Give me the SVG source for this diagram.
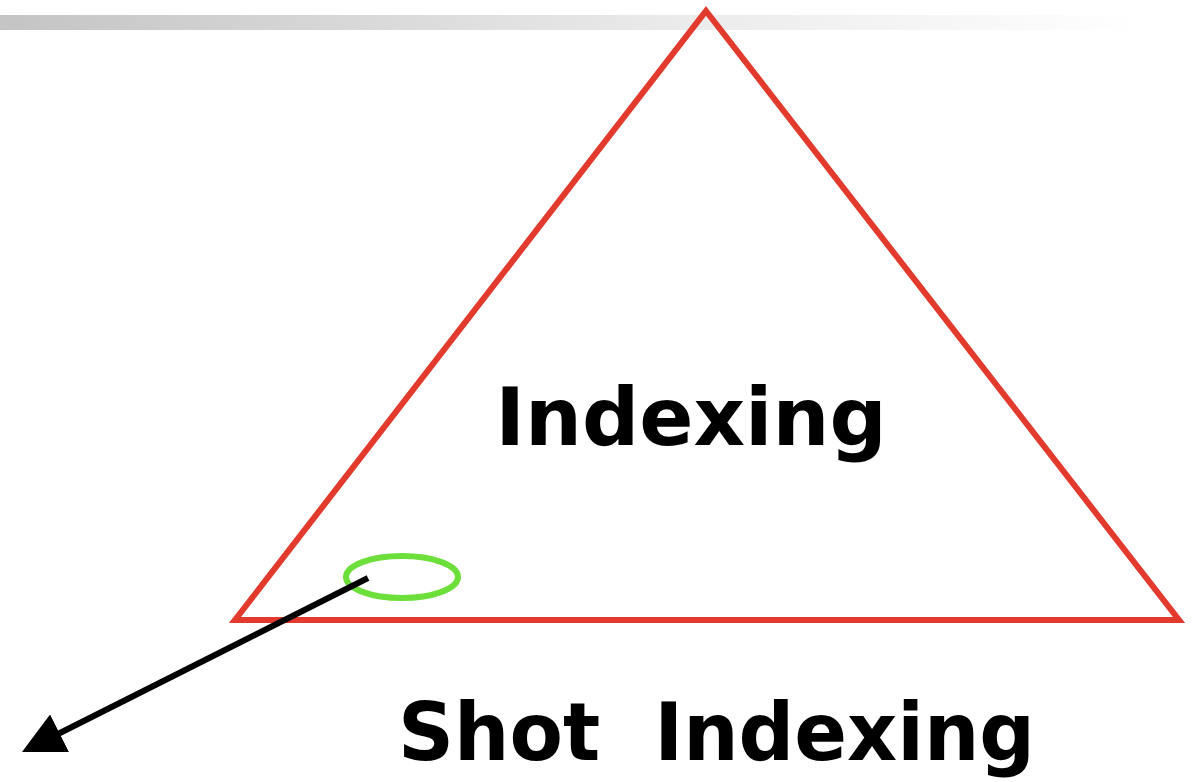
<svg xmlns="http://www.w3.org/2000/svg" width="1196" height="782" viewBox="0 0 1196 782">
<defs>
<linearGradient id="bar" x1="0" y1="0" x2="1" y2="0">
<stop offset="0" stop-color="#c4c4c4"/>
<stop offset="0.6" stop-color="#ebebeb"/>
<stop offset="1" stop-color="#ffffff"/>
</linearGradient>
<marker id="ah" viewBox="0 0 10 10" refX="2" refY="5" markerWidth="7" markerHeight="7" markerUnits="strokeWidth" orient="auto">
<path d="M0,0 L10,5 L0,10 Z" fill="#000"/>
</marker>
<style>
.lbl{font-family:"DejaVu Sans","Verdana",sans-serif;font-weight:bold;font-size:80px;fill:#000}
</style>
</defs>
<rect width="1196" height="782" fill="#fff"/>
<rect x="0" y="15" width="1140" height="15" fill="url(#bar)"/>
<g id="triangle">
<polygon points="706,11 1179,620 235,620" fill="none" stroke="#e23a2c" stroke-width="6" stroke-linejoin="miter"/>
<text class="lbl" x="691" y="445" text-anchor="middle">Indexing</text>
</g>
<g id="shot">
<ellipse cx="402" cy="577" rx="56" ry="21" fill="none" stroke="#6ddf3a" stroke-width="6"/>
</g>
<g id="connectors">
<line x1="368" y1="578" x2="52" y2="737" stroke="#000" stroke-width="6" marker-end="url(#ah)"/>
</g>
<g id="caption">
<text class="lbl" x="398" y="760" xml:space="preserve" textLength="637" lengthAdjust="spacingAndGlyphs">Shot  Indexing</text>
</g>
</svg>
